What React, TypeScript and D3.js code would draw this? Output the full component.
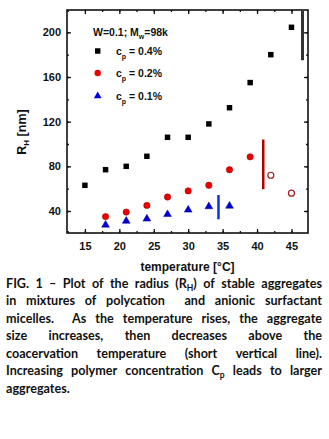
import * as d3 from 'd3';
import { useEffect, useRef } from 'react';

// cp = 0.4 %
const temps04 = [15, 18, 21, 24, 27, 30, 33, 36, 39, 42, 45];
const rh04 = [63, 77, 80, 89, 106, 106, 118, 132.5, 155, 180, 204.5];
// cp = 0.2 % (filled below coacervation, open above)
const temps02 = [18, 21, 24, 27, 30, 33, 36, 39];
const rh02 = [35, 39, 45, 52.5, 58, 63, 77, 88.5];
const temps02open = [42, 45];
const rh02open = [72, 56];
// cp = 0.1 %
const temps01 = [18, 21, 24, 27, 30, 33, 36];
const rh01 = [27.5, 31, 33, 37, 41, 44, 44.5];
// coacervation markers (short vertical lines)
const coacTemps = [46.6, 40.9, 34.4];
const coacLow = [175, 59.5, 32.6];
const coacHigh = [220, 104, 54.3];

const xTicks = [15, 20, 25, 30, 35, 40, 45];
const yTicks = [40, 80, 120, 160, 200];

const captionLines = [
  ['FIG.', '1', '–', 'Plot', 'of', 'the', 'radius', '(R|H)', 'of', 'stable', 'aggregates'],
  ['in', 'mixtures', 'of', 'polycation', '', 'and', 'anionic', 'surfactant'],
  ['micelles.', '', 'As', 'the', 'temperature', 'rises,', 'the', 'aggregate'],
  ['size', 'increases,', 'then', 'decreases', 'above', 'the'],
  ['coacervation', 'temperature', '(short', 'vertical', 'line).'],
  ['Increasing', 'polymer', 'concentration', 'C|p', 'leads', 'to', 'larger'],
  ['aggregates.'],
];

const W = 329, H = 439;
const plot = { left: 67, right: 308, top: 10, bottom: 233 };
const font = '"Liberation Sans", Arial, sans-serif';
const capFont = '"Liberation Sans Narrow", "Lato", sans-serif';

const App = () => {
  const svgRef = useRef(null);

  useEffect(() => {
    document.body.style.margin = '0';
    const svg = d3.select(svgRef.current);
    svg.selectAll('*').remove();

    const x = d3.scaleLinear().domain([12.4, 47.4]).range([plot.left, plot.right]);
    const y = d3.scaleLinear().domain([20.3, 220]).range([plot.bottom, plot.top]);
    const minorX = d3.range(12.5, 47.5, 2.5);
    const minorY = d3.range(40, 220, 20);

    // frame
    svg.append('rect')
      .attr('x', plot.left).attr('y', plot.top)
      .attr('width', plot.right - plot.left).attr('height', plot.bottom - plot.top)
      .attr('fill', 'none').attr('stroke', '#111').attr('stroke-width', 1.6);

    const styleAxis = (g, labels) => {
      g.select('.domain').remove();
      g.selectAll('line').attr('stroke', '#111').attr('stroke-width', 1.3);
      g.selectAll('text').attr('font-family', font).attr('font-weight', 'bold')
        .attr('font-size', 11).attr('fill', '#111');
      if (!labels) g.selectAll('text').remove();
    };

    // bottom / top
    svg.append('g').attr('transform', `translate(0,${plot.bottom})`)
      .call(d3.axisBottom(x).tickValues(minorX).tickSize(-2).tickFormat(() => ''))
      .call(g => styleAxis(g, false));
    svg.append('g').attr('transform', `translate(0,${plot.bottom})`)
      .call(d3.axisBottom(x).tickValues(xTicks).tickSize(-4).tickPadding(9).tickFormat(d3.format('d')))
      .call(g => styleAxis(g, true));
    svg.append('g').attr('transform', `translate(0,${plot.top})`)
      .call(d3.axisTop(x).tickValues(minorX).tickSize(-2).tickFormat(() => ''))
      .call(g => styleAxis(g, false));
    svg.append('g').attr('transform', `translate(0,${plot.top})`)
      .call(d3.axisTop(x).tickValues(xTicks).tickSize(-4).tickFormat(() => ''))
      .call(g => styleAxis(g, false));
    // left / right
    svg.append('g').attr('transform', `translate(${plot.left},0)`)
      .call(d3.axisLeft(y).tickValues(minorY).tickSize(-2).tickFormat(() => ''))
      .call(g => styleAxis(g, false));
    svg.append('g').attr('transform', `translate(${plot.left},0)`)
      .call(d3.axisLeft(y).tickValues(yTicks).tickSize(-4).tickPadding(6).tickFormat(d3.format('d')))
      .call(g => styleAxis(g, true));
    svg.append('g').attr('transform', `translate(${plot.right},0)`)
      .call(d3.axisRight(y).tickValues(minorY).tickSize(-2).tickFormat(() => ''))
      .call(g => styleAxis(g, false));
    svg.append('g').attr('transform', `translate(${plot.right},0)`)
      .call(d3.axisRight(y).tickValues(yTicks).tickSize(-4).tickFormat(() => ''))
      .call(g => styleAxis(g, false));

    // coacervation lines
    const coacColors = ['#333', '#b00000', '#1030e0'];
    coacTemps.forEach((t, i) => {
      svg.append('line')
        .attr('x1', x(t)).attr('x2', x(t))
        .attr('y1', y(coacLow[i])).attr('y2', y(Math.min(coacHigh[i], 219.2)))
        .attr('stroke', coacColors[i]).attr('stroke-width', i === 0 ? 3 : 2.5);
    });

    const sq = d3.symbol().type(d3.symbolSquare).size(30)();
    const tri = d3.symbol().type(d3.symbolTriangle).size(26)();

    temps04.forEach((t, i) => {
      svg.append('path').attr('d', sq)
        .attr('transform', `translate(${x(t)},${y(rh04[i])})`).attr('fill', '#000');
    });
    temps02.forEach((t, i) => {
      svg.append('circle').attr('cx', x(t)).attr('cy', y(rh02[i])).attr('r', 3.2)
        .attr('fill', '#ee0000').attr('stroke', '#800').attr('stroke-width', 0.5);
    });
    temps02open.forEach((t, i) => {
      svg.append('circle').attr('cx', x(t)).attr('cy', y(rh02open[i])).attr('r', 3)
        .attr('fill', '#fff').attr('stroke', '#a02020').attr('stroke-width', 1.2);
    });
    temps01.forEach((t, i) => {
      svg.append('path').attr('d', tri)
        .attr('transform', `translate(${x(t)},${y(rh01[i])})`).attr('fill', '#0000dd')
        .attr('stroke', '#000080').attr('stroke-width', 0.5);
    });

    // legend
    const lg = svg.append('g').attr('font-family', font).attr('font-weight', 'bold')
      .attr('font-size', 10.5).attr('fill', '#111');
    const t0 = lg.append('text').attr('x', 93).attr('y', 36);
    t0.append('tspan').text('W=0.1; M');
    t0.append('tspan').attr('font-size', 7).attr('dy', 3).text('w');
    t0.append('tspan').attr('dy', -3).text('=98k');
    const legendRows = ['0.4%', '0.2%', '0.1%'];
    const rowY = [51, 73, 96];
    legendRows.forEach((lab, i) => {
      if (i === 0) lg.append('path').attr('d', sq).attr('transform', `translate(97.7,${rowY[i]})`).attr('fill', '#000');
      if (i === 1) lg.append('circle').attr('cx', 97.7).attr('cy', rowY[i]).attr('r', 3.2).attr('fill', '#ee0000');
      if (i === 2) lg.append('path').attr('d', tri).attr('transform', `translate(97.7,${rowY[i]})`).attr('fill', '#0000dd');
      const tt = lg.append('text').attr('x', 116).attr('y', rowY[i] + 4);
      tt.append('tspan').text('c');
      tt.append('tspan').attr('font-size', 7).attr('dy', 3.5).text('p');
      tt.append('tspan').attr('dy', -3.5).text(` = ${lab}`);
    });

    // axis titles
    const xt = svg.append('text').attr('x', 187.5).attr('y', 270.5).attr('text-anchor', 'middle')
      .attr('font-family', font).attr('font-weight', 'bold').attr('font-size', 12).attr('fill', '#111');
    xt.text('temperature [°C]');
    const yt = svg.append('text').attr('transform', 'translate(26,132) rotate(-90)').attr('text-anchor', 'middle')
      .attr('font-family', font).attr('font-weight', 'bold').attr('font-size', 12.5).attr('fill', '#111');
    yt.append('tspan').text('R');
    yt.append('tspan').attr('font-size', 8).attr('dy', 3).text('H');
    yt.append('tspan').attr('dy', -3).text(' [nm]');

    // caption, justified
    const capLeft = 6, capRight = 322, lineH = 17.5, firstBase = 287.5;
    const cap = svg.append('g').attr('font-family', capFont).attr('font-weight', 'bold')
      .attr('font-size', 12.6).attr('fill', '#111');
    captionLines.forEach((words, li) => {
      const base = firstBase + li * lineH;
      const nodes = words.map(w => {
        const t = cap.append('text').attr('x', 0).attr('y', base);
        if (w.includes('|')) {
          const [a, b] = w.split('|');
          t.append('tspan').text(a);
          const last = b.endsWith(')') ? b.slice(0, -1) : b;
          t.append('tspan').attr('font-size', 8.5).attr('dy', 3).text(last);
          if (b.endsWith(')')) t.append('tspan').attr('dy', -3).text(')');
        } else {
          t.text(w);
        }
        return t;
      });
      const widths = nodes.map(n => n.node().getComputedTextLength());
      const total = d3.sum(widths);
      const isLast = li === captionLines.length - 1;
      const space = 3.3;
      const gap = isLast || words.length < 2 ? space : (capRight - capLeft - total) / (words.length - 1);
      let cx = capLeft;
      nodes.forEach((n, i) => {
        n.attr('x', cx);
        cx += widths[i] + gap;
      });
    });
  }, []);

  return <svg ref={svgRef} width={W} height={H} style={{ display: 'block', background: '#fff' }}></svg>;
};

export default App;
